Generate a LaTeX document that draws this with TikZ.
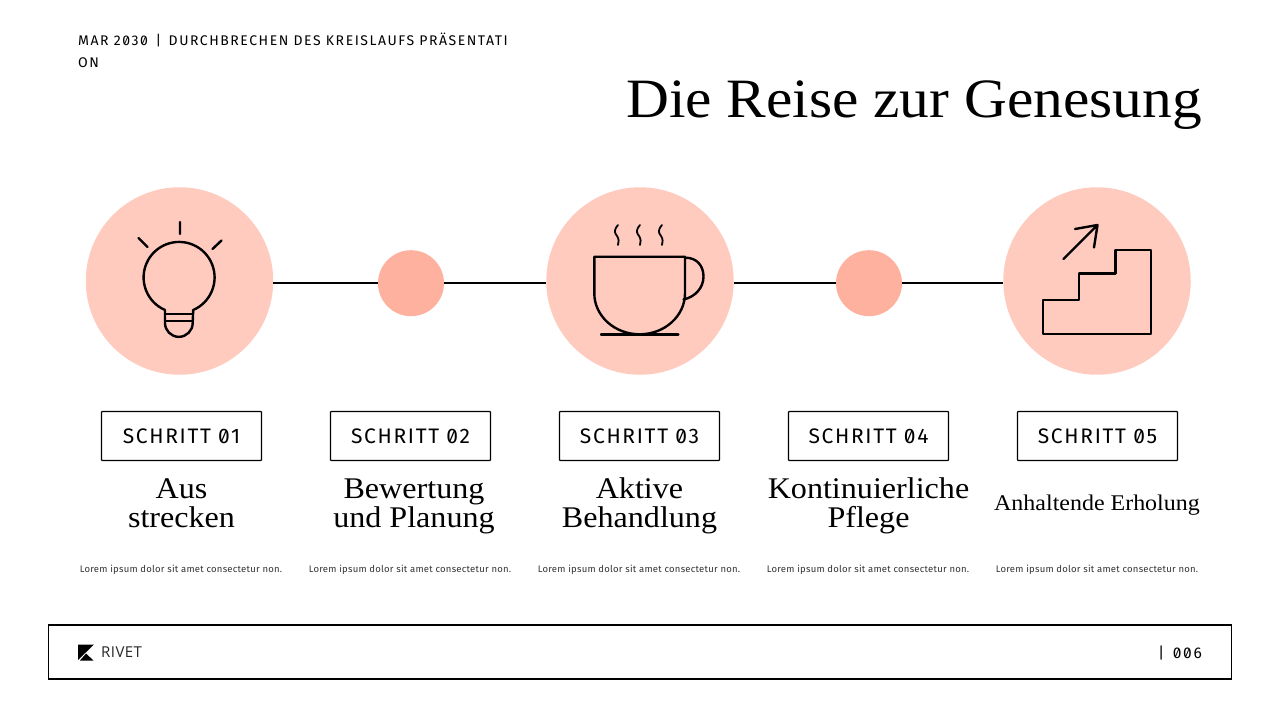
\documentclass[tikz,border=0pt]{standalone}
\usepackage{fontspec}
\setmainfont[FakeStretch=1.07]{Liberation Serif}
\newfontfamily\labelfont[LetterSpace=8,RawFeature=+zero]{Fira Sans}
\newfontfamily\topfont[LetterSpace=11,RawFeature=+zero]{Fira Sans}
\newfontfamily\loremfont[LetterSpace=2.6]{Fira Sans}
\newfontfamily\logofont[LetterSpace=3]{Open Sans}
\definecolor{bigpink}{HTML}{FFCBBF}
\definecolor{dotpink}{HTML}{FFB1A0}
\begin{document}
\begin{tikzpicture}[x=1pt,y=-1pt]
\tikzstyle{bigcircle} = [circle, fill=bigpink, minimum size=187.5pt, inner sep=0pt]
\tikzstyle{dotcircle} = [circle, fill=dotpink, minimum size=66pt, inner sep=0pt]
\tikzstyle{stepbox} = [draw, line width=1.2pt, rounded corners=0.8pt, minimum width=160pt, minimum height=49pt, inner sep=0pt, font=\labelfont\fontsize{21}{21}\selectfont]
\tikzstyle{heading} = [align=center, font=\fontsize{30}{29}\selectfont]
\tikzstyle{lorem} = [font=\loremfont\fontsize{9.5}{10}\selectfont, text=black!80]
\tikzstyle{toptext} = [anchor=west, inner sep=0pt, font=\topfont\fontsize{14}{14}\selectfont]
\tikzstyle{icon} = [line width=2.4pt, line cap=round, line join=round]
\useasboundingbox (0,0) rectangle (1280,720);
\node[toptext] (topline) at (78,40) {MAR 2030 \,|\, DURCHBRECHEN DES KREISLAUFS PRÄSENTATI};
\node[toptext] (topbreak) at (78,63) {ON};
\node[anchor=east, inner sep=0pt, font=\fontsize{55.5}{55.5}\selectfont] (title) at (1202,105) {Die Reise zur Genesung};
\node[bigcircle] (big01) at (179.5,281) {};
\node[dotcircle] (dot02) at (411,283.2) {};
\node[bigcircle] (big03) at (640,281) {};
\node[dotcircle] (dot04) at (869,283.2) {};
\node[bigcircle] (big05) at (1097,281) {};
\draw[line width=2pt] (big01.east |- dot02) -- (dot02);
\draw[line width=2pt] (dot02) -- (big03.west |- dot02);
\draw[line width=2pt] (big03.east |- dot04) -- (dot04);
\draw[line width=2pt] (dot04) -- (big05.west |- dot04);
\draw[icon] (165,310) arc (246.6:-66.6:35.5pt) -- (192.7,323) arc (0:-180:13.85pt) -- cycle;
\draw[icon] (165,314) -- (192.7,314) (165,320.7) -- (192.7,320.7);
\draw[icon] (180,222) -- (180,234) (138.5,238) -- (147.5,247) (221.5,240.5) -- (212.5,249);
\draw[icon] (594.3,256.7) -- (685,256.7) -- (685,293.3) arc (0:-180:45.35pt and 41pt) -- cycle;
\draw[icon] (601,334.3) -- (678.3,334.3);
\draw[icon] (685,257.7) .. controls (697,257.5) and (703.5,266) .. (703.5,276.5) .. controls (703.5,288) and (695,297) .. (683.5,299.5);
\draw[icon, line width=1.8pt] (618,225) .. controls (613,231) and (615,233) .. (617,236) .. controls (619,239) and (619,242) .. (618,245);
\draw[icon, line width=1.8pt] (640,225) .. controls (635,231) and (637,233) .. (639,236) .. controls (641,239) and (641,242) .. (640,245);
\draw[icon, line width=1.8pt] (662,225) .. controls (657,231) and (659,233) .. (661,236) .. controls (663,239) and (663,242) .. (662,245);
\draw[icon] (1043,300) -- (1079,300) -- (1079,273.3) -- (1115.3,273.3) -- (1115.3,250) -- (1151,250) -- (1151,334) -- (1043,334) -- cycle;
\draw[icon] (1063.5,259) -- (1097.5,225) (1075,229) -- (1097.5,225) -- (1094,247.5);
\node[stepbox] (step01) at (181.5,436) {SCHRITT 01};
\node[stepbox] (step02) at (410.5,436) {SCHRITT 02};
\node[stepbox] (step03) at (639.5,436) {SCHRITT 03};
\node[stepbox] (step04) at (868.5,436) {SCHRITT 04};
\node[stepbox] (step05) at (1097.5,436) {SCHRITT 05};
\node[heading] (head01) at (181.5,503) {Aus\\strecken};
\node[heading] (head02) at (414,506) {Bewertung\\und Planung};
\node[heading] (head03) at (639.5,506) {Aktive\\Behandlung};
\node[heading] (head04) at (868.5,506) {Kontinuierliche\\Pflege};
\node[font=\fontsize{22.4}{23}\selectfont] (head05) at (1097,505) {Anhaltende Erholung};
\node[lorem] (text01) at (181,570) {Lorem ipsum dolor sit amet consectetur non.};
\node[lorem] (text02) at (410,570) {Lorem ipsum dolor sit amet consectetur non.};
\node[lorem] (text03) at (639,570) {Lorem ipsum dolor sit amet consectetur non.};
\node[lorem] (text04) at (868,570) {Lorem ipsum dolor sit amet consectetur non.};
\node[lorem] (text05) at (1097,570) {Lorem ipsum dolor sit amet consectetur non.};
\node[draw, line width=1.2pt, minimum width=1183pt, minimum height=54pt, inner sep=0pt] (footer) at (640,652) {};
\fill (78,644.5) -- (94,644.5) -- (78,660) -- cycle;
\fill (80,660.5) -- (86,653.5) -- (93.5,660.5) -- cycle;
\node[anchor=west, inner sep=0pt, font=\logofont\fontsize{15}{15}\selectfont, text=black!85] (logo) at (101,652) {RIVET};
\node[anchor=east, inner sep=0pt, font=\topfont\fontsize{15.5}{15.5}\selectfont] (page) at (1202,653) {| \,006};
\end{tikzpicture}
\end{document}
